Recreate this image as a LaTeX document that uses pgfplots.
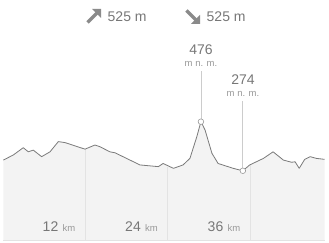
\documentclass[border=0pt]{standalone}
\usepackage{fontspec}
\setmainfont{Liberation Sans}
\usepackage{pgfplots}
\pgfplotsset{compat=1.18}
\usetikzlibrary{arrows.meta}
\definecolor{txt}{HTML}{777777}
\definecolor{lab}{HTML}{999999}
\definecolor{fillc}{HTML}{F3F3F3}
\definecolor{gridc}{HTML}{E3E3E3}
\definecolor{prof}{HTML}{7A7A7A}
\definecolor{icon}{HTML}{8A8A8A}
\definecolor{lead}{HTML}{CCCCCC}
\begin{document}
\begin{tikzpicture}[x=1pt,y=1pt]
\useasboundingbox (0,0) rectangle (329,243);
\begin{axis}[
  at={(3pt,3pt)}, anchor=south west,
  scale only axis, width=323pt, height=240pt,
  xmin=0, xmax=47, ymin=-11, ymax=977,
  axis lines=none, ticks=none, clip=false,
]
\addplot[draw=none, fill=fillc] coordinates {
(0.05,318) (1.5,339) (2.95,369) (3.68,352) (4.41,359) (5.62,332) (6.84,352)
(8.05,394) (9.02,390) (11.93,363) (13.38,380) (14.1,373) (15.56,352) (16.3,348)
(19.93,298) (22.6,291) (23.3,304) (24.8,284) (26.2,298) (27.2,325) (28.2,414)
(28.8,476) (29.4,442) (30.4,346) (31.3,304) (33.5,284) (34.9,274) (35.9,298)
(37.9,325) (39.3,352) (40.8,318) (42.0,309) (42.5,311) (43.1,284) (43.9,321)
(44.7,332) (45.6,325) (46.8,321) (46.8,-11) (0.05,-11)} -- cycle;
\addplot[gridc, line width=0.8pt] coordinates {(11.93,-11) (11.93,363)};
\addplot[gridc, line width=0.8pt] coordinates {(23.93,-11) (23.93,290)};
\addplot[gridc, line width=0.8pt] coordinates {(35.93,-11) (35.93,298)};
\addplot[prof, line width=0.8pt, line join=round] coordinates {
(0.05,318) (1.5,339) (2.95,369) (3.68,352) (4.41,359) (5.62,332) (6.84,352)
(8.05,394) (9.02,390) (11.93,363) (13.38,380) (14.1,373) (15.56,352) (16.3,348)
(19.93,298) (22.6,291) (23.3,304) (24.8,284) (26.2,298) (27.2,325) (28.2,414)
(28.8,476) (29.4,442) (30.4,346) (31.3,304) (33.5,284) (34.9,274) (35.9,298)
(37.9,325) (39.3,352) (40.8,318) (42.0,309) (42.5,311) (43.1,284) (43.9,321)
(44.7,332) (45.6,325) (46.8,321)};
\addplot[gridc, line width=0.7pt] coordinates {(0.05,-11) (46.8,-11)};
\addplot[lead, line width=0.7pt] coordinates {(28.8,476) (28.8,684)};
\addplot[lead, line width=0.7pt] coordinates {(34.9,274) (34.9,560)};
\addplot[only marks, mark=*, mark size=2.8pt, mark options={fill=white, draw=lab, line width=0.6pt}] coordinates {(28.8,476) (34.9,274)};
\end{axis}
% header
\fill[icon] (92,234) -- (101,234) -- (101,225) -- cycle;
\draw[icon, line width=3.4pt] (87.5,220.5) -- (97,230);
\fill[icon] (191,219) -- (200,219) -- (200,228) -- cycle;
\draw[icon, line width=3.4pt] (186.5,232.5) -- (196,223);
\node[anchor=west, inner sep=0, text=txt, font=\fontsize{14}{14}\selectfont] at (107.5,226) {525 m};
\node[anchor=west, inner sep=0, text=txt, font=\fontsize{14}{14}\selectfont] at (206.5,226) {525 m};
% point labels
\node[text=txt, inner sep=0, font=\fontsize{14}{14}\selectfont] at (201,193) {476};
\node[text=lab, inner sep=0, font=\fontsize{9.5}{9.5}\selectfont] at (201,179) {m n. m.};
\node[text=txt, inner sep=0, font=\fontsize{14}{14}\selectfont] at (243,163) {274};
\node[text=lab, inner sep=0, font=\fontsize{9.5}{9.5}\selectfont] at (243,149) {m n. m.};
% x labels
\foreach \gx/\lab in {85/12, 167.5/24, 250/36} {
  \node[anchor=base east, inner sep=0, text=lab, font=\fontsize{9.5}{9.5}\selectfont] at (\gx-9.5,11.3) {km};
  \node[anchor=base east, inner sep=0, text=txt, font=\fontsize{14}{14}\selectfont] at (\gx-26.5,11.3) {\lab};
}
\end{tikzpicture}
\end{document}
